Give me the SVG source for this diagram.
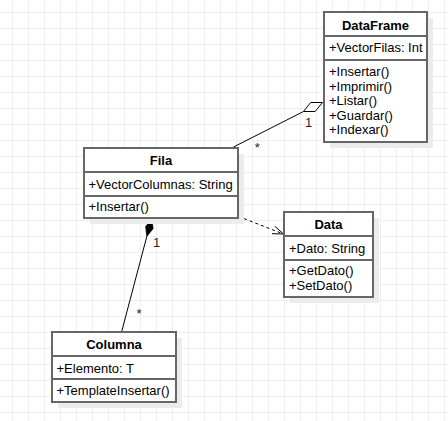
<svg xmlns="http://www.w3.org/2000/svg" width="448" height="421" viewBox="0 0 448 421">
  <defs>
    <pattern id="grid" width="16" height="16" patternUnits="userSpaceOnUse" x="12" y="12">
      <path d="M0 0.5H16M0.5 0V16" fill="none" stroke="#efefef" stroke-width="1"/>
    </pattern>
  </defs>
  <style>
    .box { fill: #ffffff; stroke: #666666; stroke-width: 2; }
    .sep { stroke: #666666; stroke-width: 2; }
    .shadow { fill: #ececec; }
    .t { font-family: "Liberation Sans", Arial, sans-serif; font-size: 13px; fill: #000; }
    .h { font-weight: bold; text-anchor: middle; }
    .lbl { font-family: "Liberation Sans", Arial, sans-serif; font-size: 13px; fill: #222; text-anchor: middle; }
    .edge { fill: none; stroke: #000; stroke-width: 1; }
  </style>
  <rect width="448" height="421" fill="#ffffff"/>
  <rect width="448" height="421" fill="url(#grid)"/>

  <g id="connectors">
    <g id="fila-dataframe">
      <line class="edge" x1="233.5" y1="147" x2="303.5" y2="111.5"/>
      <polygon points="322.5,102.5 310.7,102.5 303.5,111.5 315.1,111.5" fill="#ffffff" stroke="#000" stroke-width="1" stroke-linejoin="miter"/>
      <text class="lbl" x="308.7" y="126.5">1</text>
      <text class="lbl" x="257.3" y="152">*</text>
    </g>
    <g id="fila-data">
      <line class="edge" x1="238.5" y1="216.5" x2="283" y2="233.8" stroke-dasharray="3 3"/>
      <polyline class="edge" points="272,233.7 283.5,234 274.8,226.3"/>
    </g>
    <g id="fila-columna">
      <line class="edge" x1="146.8" y1="236.5" x2="121.7" y2="331.5"/>
      <polygon points="151.8,219 153.1,228.6 146.8,236.5 145.7,226.6" fill="#000" stroke="#000" stroke-width="0.8" stroke-linejoin="miter"/>
      <text class="lbl" x="156.7" y="246.5">1</text>
      <text class="lbl" x="139" y="317.6">*</text>
    </g>
  </g>

  <g id="DataFrame">
    <rect class="shadow" x="330" y="18" width="103" height="130"/>
    <rect class="box" x="324" y="12" width="103" height="130"/>
    <line class="sep" x1="324" y1="36" x2="427" y2="36"/>
    <line class="sep" x1="324" y1="60" x2="427" y2="60"/>
    <text class="t h" x="375.5" y="29.6">DataFrame</text>
    <text class="t" x="329" y="52.3">+VectorFilas: Int</text>
    <text class="t" x="329" y="76">+Insertar()</text>
    <text class="t" x="329" y="90.5">+Imprimir()</text>
    <text class="t" x="329" y="105">+Listar()</text>
    <text class="t" x="329" y="119.5">+Guardar()</text>
    <text class="t" x="329" y="134">+Indexar()</text>
  </g>

  <g id="Fila">
    <rect class="shadow" x="90" y="154" width="154" height="70"/>
    <rect class="box" x="84" y="148" width="154" height="70"/>
    <line class="sep" x1="84" y1="172" x2="238" y2="172"/>
    <line class="sep" x1="84" y1="196" x2="238" y2="196"/>
    <text class="t h" x="161" y="165.3">Fila</text>
    <text class="t" x="88.5" y="188.5">+VectorColumnas: String</text>
    <text class="t" x="88.5" y="211.3">+Insertar()</text>
  </g>

  <g id="Data">
    <rect class="shadow" x="290" y="218" width="89" height="85"/>
    <rect class="box" x="284" y="212" width="89" height="85"/>
    <line class="sep" x1="284" y1="236" x2="373" y2="236"/>
    <line class="sep" x1="284" y1="260" x2="373" y2="260"/>
    <text class="t h" x="328.5" y="229">Data</text>
    <text class="t" x="289" y="253">+Dato: String</text>
    <text class="t" x="289" y="275">+GetDato()</text>
    <text class="t" x="289" y="290">+SetDato()</text>
  </g>

  <g id="Columna">
    <rect class="shadow" x="58" y="338" width="124" height="70"/>
    <rect class="box" x="52" y="332" width="124" height="70"/>
    <line class="sep" x1="52" y1="356" x2="176" y2="356"/>
    <line class="sep" x1="52" y1="379" x2="176" y2="379"/>
    <text class="t h" x="114" y="349">Columna</text>
    <text class="t" x="56.5" y="373">+Elemento: T</text>
    <text class="t" x="56.5" y="395.3">+TemplateInsertar()</text>
  </g>
</svg>
